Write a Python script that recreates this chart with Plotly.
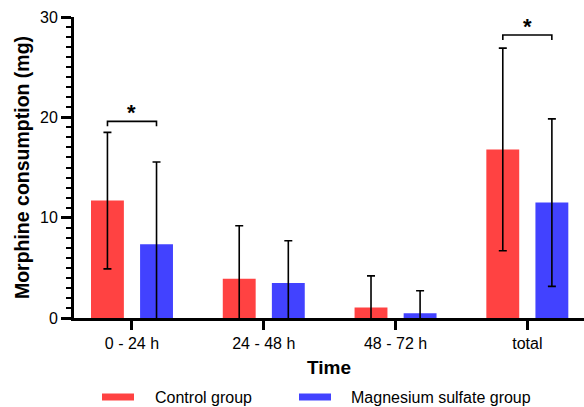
import plotly.graph_objects as go

# ---- data ----
categories = ["0 - 24 h", "24 - 48 h", "48 - 72 h", "total"]
control_mean = [11.7, 3.9, 1.05, 16.8]
control_sd = [6.8, 5.3, 3.15, 10.1]
magnesium_mean = [7.35, 3.5, 0.47, 11.5]
magnesium_sd = [8.2, 4.2, 2.25, 8.35]
series_names = ["Control group", "Magnesium sulfate group"]
y_ticks = [0, 10, 20, 30]
# significance brackets: category index, bracket height (mg), label
sig_index = [0, 3]
sig_height = [19.6, 28.2]
sig_label = ["*", "*"]

RED = "#FF4242"
BLUE = "#4242FF"
FONT = "Arial, 'Liberation Sans', sans-serif"

W, H = 584, 407
ML, MR, MT, MB = 74, 0, 17, 89
PW, PH = W - ML - MR, H - MT - MB


def px_x(p):
    return (p - ML) / PW


def px_y(p):
    return (H - MB - p) / PH


fig = go.Figure()
err_style = dict(type="data", visible=True, color="black", thickness=1.6, width=4)
fig.add_trace(go.Bar(x=categories, y=control_mean, name=series_names[0],
                     marker=dict(color=RED, line=dict(width=0)),
                     error_y=dict(array=control_sd, **err_style)))
fig.add_trace(go.Bar(x=categories, y=magnesium_mean, name=series_names[1],
                     marker=dict(color=BLUE, line=dict(width=0)),
                     error_y=dict(array=magnesium_sd, **err_style)))

off = 0.186
shapes = []
annotations = []
for idx, h, lab in zip(sig_index, sig_height, sig_label):
    x0, x1 = idx - off, idx + off
    shapes.append(dict(type="path", xref="x", yref="y",
                       path=f"M {x0},{h-0.5} L {x0},{h} L {x1},{h} L {x1},{h-0.5}",
                       line=dict(color="black", width=1.6)))
    annotations.append(dict(x=idx, y=h, xref="x", yref="y", text=f"<b>{lab}</b>",
                            showarrow=False, yanchor="bottom", yshift=-6,
                            font=dict(size=22, color="black", family=FONT)))

# custom legend (wide flat swatches, as in the original)
legend_swatch_px = [(102, 134), (299, 331)]
legend_text_px = [153, 349]
legend_y_px = 397
for nm, col, (s0, s1), tx in zip(series_names, [RED, BLUE], legend_swatch_px, legend_text_px):
    shapes.append(dict(type="rect", xref="paper", yref="paper",
                       x0=px_x(s0), x1=px_x(s1), y0=px_y(legend_y_px + 3.5), y1=px_y(legend_y_px - 3.5),
                       fillcolor=col, line=dict(width=0)))
    annotations.append(dict(x=px_x(tx), y=px_y(legend_y_px), xref="paper", yref="paper",
                            text=nm, showarrow=False, xanchor="left", yanchor="middle",
                            font=dict(size=16, color="black", family=FONT)))

fig.update_layout(
    width=W, height=H,
    margin=dict(l=ML, r=MR, t=MT, b=MB),
    paper_bgcolor="white", plot_bgcolor="white",
    font=dict(family=FONT, color="black", size=16),
    barmode="group", bargap=0.255, bargroupgap=0.33,
    shapes=shapes, annotations=annotations,
    showlegend=False,
    xaxis=dict(type="category", range=[-0.44, 3.43], showline=True, linecolor="black",
               linewidth=3, ticks="outside", ticklen=9, tickwidth=3, tickcolor="black",
               title=dict(text="<b>Time</b>", font=dict(size=19), standoff=10),
               tickfont=dict(size=16), showgrid=False, zeroline=False, automargin=False),
    yaxis=dict(range=[0, 30], tickvals=y_ticks, showline=True, linecolor="black",
               linewidth=3, ticks="outside", ticklen=10, tickwidth=2.5, tickcolor="black",
               minor=dict(dtick=1, ticks="outside", ticklen=5, tickwidth=2, tickcolor="black"),
               title=dict(text="<b>Morphine consumption (mg)</b>", font=dict(size=19.5), standoff=6),
               tickfont=dict(size=16), showgrid=False, zeroline=False, automargin=False),
)

fig.write_html("out.html", config={"displayModeBar": False},
               post_script="document.body.style.margin='0px';")
